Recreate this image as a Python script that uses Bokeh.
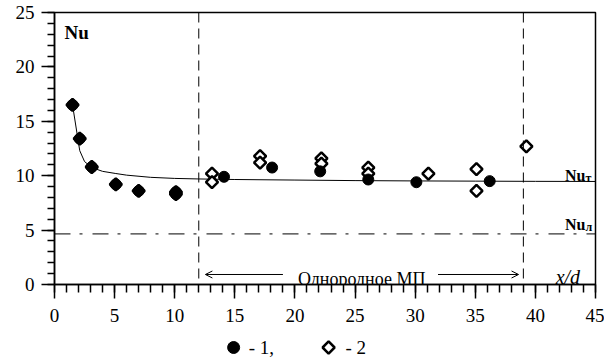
import numpy as np
from bokeh.plotting import figure
from bokeh.layouts import column
from bokeh.models import (Range1d, SingleIntervalTicker, Span, Arrow, OpenHead,
                          Label)
from bokeh.core.properties import value
from bokeh.embed import file_html
from bokeh.resources import INLINE

# ---- data ----
s1_x = [1.5, 2.1, 3.1, 5.1, 7.0, 10.1, 10.1, 14.1, 18.1, 22.1, 26.1, 30.1, 36.2]
s1_y = [16.5, 13.4, 10.8, 9.2, 8.6, 8.5, 8.3, 9.9, 10.75, 10.4, 9.65, 9.4, 9.5]

s2_x = [1.5, 2.1, 3.1, 5.1, 7.0, 10.1, 10.1, 13.1, 13.1, 17.1, 17.1, 22.2, 22.2,
        26.1, 26.1, 31.1, 35.1, 35.1, 39.25]
s2_y = [16.5, 13.4, 10.8, 9.2, 8.6, 8.5, 8.3, 10.2, 9.4, 11.8, 11.2, 11.6, 11.1,
        10.75, 10.2, 10.2, 10.6, 8.6, 12.7]

fit_x = [1.5, 2.1, 2.5, 3.1, 4.0, 5.1, 6.0, 8.0, 10.0, 12.0, 15.0, 20.0, 25.0,
         30.0, 35.0, 40.0, 45.0]
fit_y = [16.5, 12.3, 11.3, 10.75, 10.4, 10.2, 10.05, 9.85, 9.75, 9.7, 9.65, 9.6,
         9.55, 9.52, 9.5, 9.48, 9.47]

nu_lam = 4.65
zone_start, zone_end = 12, 39
x_ticks_interval = 5
y_ticks_interval = 5
legend_labels = ["- 1,", "- 2"]

FONT = "'Liberation Serif', 'Times New Roman', 'DejaVu Serif', serif"

p = figure(width=604, height=333, output_backend="svg", toolbar_location=None,
           x_range=Range1d(0, 45), y_range=Range1d(0, 25),
           min_border_left=54, min_border_top=12, min_border_right=9,
           min_border_bottom=49)
p.grid.visible = False
p.outline_line_color = "black"
p.outline_line_width = 1.5
p.background_fill_color = "white"
p.border_fill_color = "white"

for ax, interval in ((p.xaxis[0], x_ticks_interval), (p.yaxis[0], y_ticks_interval)):
    ax.ticker = SingleIntervalTicker(interval=interval, num_minor_ticks=5)
    ax.axis_line_width = 1.5
    ax.major_tick_line_width = 1.5
    ax.minor_tick_line_width = 1.5
    ax.major_tick_in = 0
    ax.minor_tick_in = 0
    ax.major_label_text_font = FONT
    ax.major_label_text_font_size = "19px"
    ax.major_label_text_color = "black"

p.xaxis.major_tick_out = 14
p.xaxis.minor_tick_out = 8
p.xaxis.major_label_standoff = 10
p.yaxis.major_tick_out = 13
p.yaxis.minor_tick_out = 7
p.yaxis.major_label_standoff = 7

# reference lines
p.add_layout(Span(location=zone_start, dimension="height", line_color="black",
                  line_width=1, line_dash="10 6"))
p.add_layout(Span(location=zone_end, dimension="height", line_color="black",
                  line_width=1, line_dash="10 6"))
p.add_layout(Span(location=nu_lam, dimension="width", line_color="black",
                  line_width=1, line_dash="16 9 3 10"))

# fitted curve
p.line(fit_x, fit_y, line_color="black", line_width=1)

# series
p.scatter(s2_x, s2_y, marker="square", angle=np.pi / 4, size=8.5,
          fill_color="white", line_color="black", line_width=2.5)
p.scatter(s1_x, s1_y, marker="circle", size=11, fill_color="black",
          line_color="black")

# arrows
p.add_layout(Arrow(x_start=19.0, y_start=0.92, x_end=12.55, y_end=0.92,
                   line_width=1, line_color="black",
                   end=OpenHead(size=7, line_width=1, line_color="black")))
p.add_layout(Arrow(x_start=31.9, y_start=0.92, x_end=38.6, y_end=0.92,
                   line_width=1, line_color="black",
                   end=OpenHead(size=7, line_width=1, line_color="black")))


def label(**kw):
    kw.setdefault("text_font", FONT)
    kw.setdefault("text_color", "black")
    kw.setdefault("text_baseline", "alphabetic")
    p.add_layout(Label(**kw))


label(x=25.55, y=0.55, text="Однородное МП", text_align="center",
      text_font_size="18px")
label(x=42.7, y=0.65, text="x/d", text_align="center",
      text_font_style="italic", text_font_size="20px")

# Nu labels
label(x=0.83, y=23.2, text="Nu", text_align="left",
      text_font_style="bold", text_font_size="19px")
label(x=45, y=10.0, x_offset=-10, text="Nu", text_align="right",
      text_font_style="bold", text_font_size="16px")
label(x=45, y=10.0, x_offset=-10, y_offset=-2, text="т", text_align="left",
      text_font_style="bold", text_font_size="12px")
label(x=45, y=5.5, x_offset=-10, text="Nu", text_align="right",
      text_font_style="bold", text_font_size="16px")
label(x=45, y=5.5, x_offset=-10, y_offset=-2, text="л", text_align="left",
      text_font_style="bold", text_font_size="12px")

# legend strip (same horizontal frame as the plot)
leg = figure(width=604, height=28, output_backend="svg", toolbar_location=None,
             x_range=Range1d(0, 45), y_range=Range1d(0, 1),
             x_axis_location=None, y_axis_location=None,
             min_border_left=54, min_border_right=9, min_border_top=0,
             min_border_bottom=0)
leg.grid.visible = False
leg.outline_line_color = None
leg.background_fill_color = "white"
leg.border_fill_color = "white"
leg.scatter([14.9], [0.5], marker="circle", size=12, fill_color="black",
            line_color="black")
leg.scatter([22.8], [0.5], marker="square", angle=np.pi / 4, size=8.5,
            fill_color="white", line_color="black", line_width=2.5)
leg.text([16.15, 24.2], [0.5, 0.5], text=legend_labels,
         text_font=value(FONT), text_font_size="19px", text_align="left",
         text_baseline="middle", text_color="black")

open("out.html", "w").write(file_html(column(p, leg, spacing=0), INLINE))
